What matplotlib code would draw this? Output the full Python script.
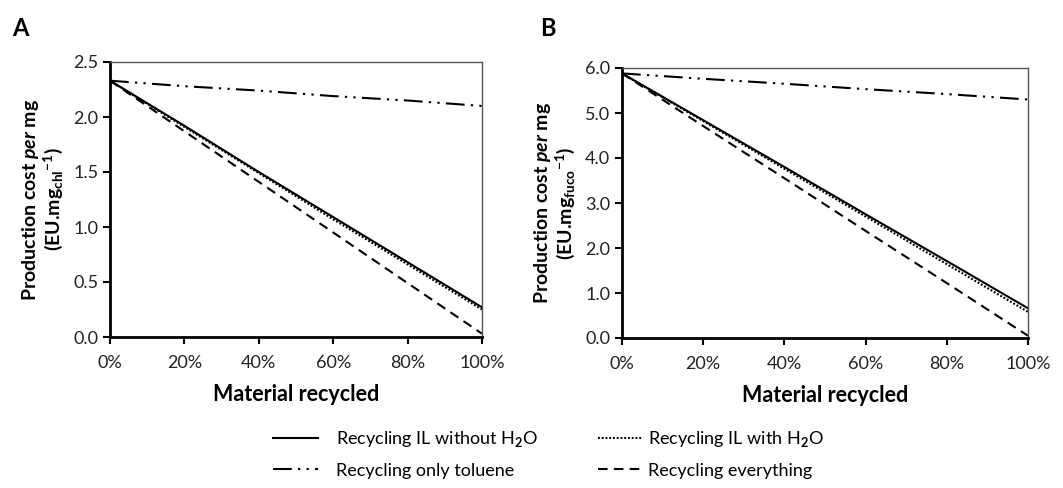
import numpy as np
import matplotlib
matplotlib.use('Agg')
import matplotlib.pyplot as plt
from matplotlib.ticker import PercentFormatter, FormatStrFormatter

plt.rcParams['font.family'] = ['Lato', 'DejaVu Sans']
plt.rcParams['mathtext.fontset'] = 'custom'
plt.rcParams['mathtext.rm'] = 'Lato:bold'
plt.rcParams['mathtext.it'] = 'Lato:italic:bold'
plt.rcParams['mathtext.bf'] = 'Lato:bold'

# fraction of material recycled
recycled = [0.0, 0.2, 0.4, 0.6, 0.8, 1.0]

# panel A (chlorophyll)
a_il_no_water = [2.33, 1.92, 1.50, 1.09, 0.68, 0.27]
a_il_water = [2.33, 1.91, 1.49, 1.07, 0.66, 0.25]
a_toluene = [2.33, 2.28, 2.24, 2.19, 2.15, 2.10]
a_everything = [2.33, 1.87, 1.41, 0.95, 0.49, 0.03]

# panel B (fucoxanthin)
b_il_no_water = [5.88, 4.84, 3.80, 2.75, 1.71, 0.66]
b_il_water = [5.88, 4.82, 3.76, 2.70, 1.64, 0.58]
b_toluene = [5.88, 5.76, 5.65, 5.53, 5.42, 5.30]
b_everything = [5.88, 4.71, 3.55, 2.38, 1.22, 0.05]

fig = plt.figure(figsize=(10.63, 4.88), dpi=100)
axA = fig.add_axes([110/1063, 1-337/488, 372/1063, 275/488])
axB = fig.add_axes([622/1063, 1-338/488, 406/1063, 270/488])

LW = 1.5
dashdotdot = (0, (9, 3, 1.1, 3, 1.1, 3))


def draw_panel(ax, solid, dotted, toluene, everything, ymax, ystep, sub):
    l1, = ax.plot(recycled, solid, color='black', lw=LW, label='Recycling IL without H$_2$O')
    l2, = ax.plot(recycled, dotted, color='black', lw=LW, linestyle=(0, (0.9, 0.9)),
                  label='Recycling IL with H$_2$O')
    l3, = ax.plot(recycled, toluene, color='black', lw=LW, linestyle=dashdotdot,
                  label='Recycling only toluene')
    l4, = ax.plot(recycled, everything, color='black', lw=LW, linestyle=(0, (4.6, 3)),
                  label='Recycling everything')
    ax.set_xlim(0, 1)
    ax.set_ylim(0, ymax)
    ax.set_xticks(np.arange(0, 1.01, 0.2))
    ax.set_yticks(np.arange(0, ymax + 0.001, ystep))
    ax.xaxis.set_major_formatter(PercentFormatter(1.0, decimals=0))
    ax.yaxis.set_major_formatter(FormatStrFormatter('%.1f'))
    ax.tick_params(labelsize=13, direction='out', length=5, width=1.5, color='black',
                   labelcolor='#222222')
    ax.tick_params(axis='x', pad=8)
    for s in ['left', 'bottom']:
        ax.spines[s].set_linewidth(2)
        ax.spines[s].set_color('black')
    for s in ['top', 'right']:
        ax.spines[s].set_linewidth(1)
        ax.spines[s].set_color('#555555')
    ax.set_xlabel('Material recycled', fontsize=15.5, fontweight='bold', labelpad=9)
    ax.set_ylabel('Production cost $\\mathit{per}$ mg\n(EU.mg$_{\\mathrm{' + sub + '}}$$^{\\mathrm{-1}}$)',
                  fontsize=14, fontweight='bold', linespacing=1.05, labelpad=6)
    return [l1, l3], [l2, l4]


left_col, right_col = draw_panel(axA, a_il_no_water, a_il_water, a_toluene, a_everything, 2.5, 0.5, 'chl')
draw_panel(axB, b_il_no_water, b_il_water, b_toluene, b_everything, 6.0, 1.0, 'fuco')

fig.text(12/1063, 1-28/488, 'A', fontsize=17, fontweight='bold', va='center')
fig.text(540/1063, 1-28/488, 'B', fontsize=17, fontweight='bold', va='center')

leg_kw = dict(loc='center left', frameon=False, fontsize=13, handlelength=2.5,
              labelspacing=0.75, borderpad=0, borderaxespad=0)
fig.legend(handles=left_col, bbox_to_anchor=(273/1063, 1-454/488), handletextpad=1.0, **leg_kw)
fig.legend(handles=right_col, bbox_to_anchor=(598/1063, 1-454/488), handletextpad=0.25, **leg_kw)

fig.savefig('out.png', dpi=100)
